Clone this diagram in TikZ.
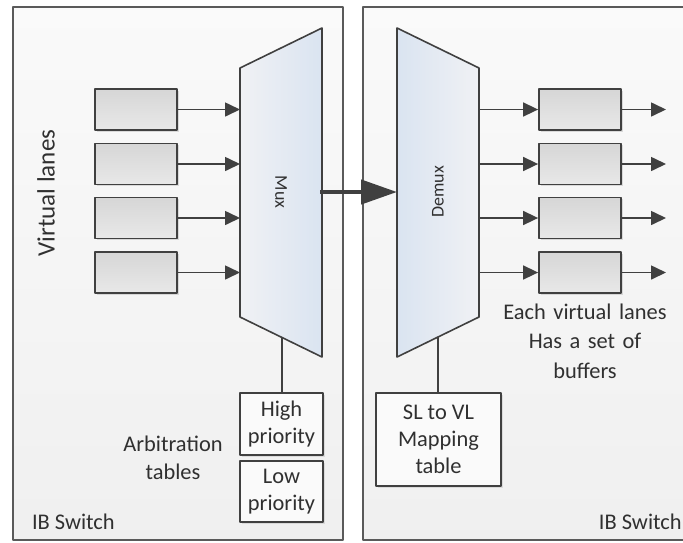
\documentclass[tikz,border=0pt]{standalone}
\usepackage{fontspec}
\setmainfont{Carlito}
\usetikzlibrary{arrows.meta}
\usetikzlibrary{positioning}
\usetikzlibrary{shadows}

\definecolor{linegray}{HTML}{404040}
\definecolor{framegray}{HTML}{5A5A5A}
\definecolor{textgray}{HTML}{303030}
\definecolor{muxblue}{HTML}{DAE4F1}
\definecolor{muxpale}{HTML}{F0F1F4}

\begin{document}
\begin{tikzpicture}[x=0.5pt, y=-0.5pt, line join=round, >={Triangle[length=7.5pt, width=7pt]},
    panel/.style={draw=framegray, line width=0.8pt, top color=white!98!black, bottom color=white!94!black},
    lanebox/.style={draw=linegray, line width=0.9pt, top color=white!84!black, bottom color=white!91!black,
      minimum width=41pt, minimum height=20.5pt, inner sep=0pt,
      drop shadow={shadow xshift=0.8pt, shadow yshift=-0.8pt, opacity=0.25}},
    tablebox/.style={draw=linegray, line width=0.6pt, fill=white!98!black, align=center, inner sep=0pt,
      drop shadow={shadow xshift=0.8pt, shadow yshift=-0.8pt, opacity=0.2}},
    wire/.style={draw=linegray, line width=0.8pt},
    lbl/.style={text=textgray, font=\fontsize{11.2}{13.5}\selectfont, align=center}]
  \useasboundingbox (0,0) rectangle (683,542);
  %--- IB switches
    \draw[panel] (13,7) rectangle (343,540);
    \draw[panel] (363,7) rectangle (700,540);
    \node[lbl, anchor=west] (swL) at (25,522) {IB Switch};
    \node[lbl, anchor=east, inner sep=0pt] (swR) at (682,522) {IB Switch};
  %--- Mux
    \coordinate (mux-nw) at (240,68);
    \coordinate (mux-ne) at (322,28);
    \coordinate (mux-se) at (322,357);
    \coordinate (mux-sw) at (240,317);
    \path[draw=linegray, line width=0.8pt, left color=muxpale, right color=muxblue]
      (mux-nw) -- (mux-ne) -- (mux-se) -- (mux-sw) -- cycle;
    \node[rotate=-90, text=textgray, font=\fontsize{9}{10}\selectfont] (mux) at (281,192) {Mux};
  %--- Demux
    \coordinate (dmx-nw) at (397,28);
    \coordinate (dmx-ne) at (479,68);
    \coordinate (dmx-se) at (479,317);
    \coordinate (dmx-sw) at (397,357);
    \path[draw=linegray, line width=0.8pt, left color=muxblue, right color=muxpale]
      (dmx-nw) -- (dmx-ne) -- (dmx-se) -- (dmx-sw) -- cycle;
    \node[rotate=90, text=textgray, font=\fontsize{9}{10}\selectfont] (dmx) at (438,192) {Demux};
  %--- Link
    \coordinate (mux-out) at (320,192);
    \coordinate (dmx-in) at (397,192);
    \draw[wire, line width=2.2pt, -{Triangle[length=18pt, width=12pt]}] (mux-out) -- (dmx-in);
  %--- Virtual lanes
    \node[lbl, rotate=90, font=\fontsize{12.5}{14}\selectfont] (vl) at (46,193) {Virtual lanes};
    \foreach \i/\y in {1/109.5, 2/164, 3/218, 4/272.5} {
      \node[lanebox] (in\i) at (136,\y) {};
      \draw[wire, ->] (in\i.east) -- (in\i.east -| mux-sw);
      \node[lanebox] (out\i) at (580,\y) {};
      \coordinate (end\i) at (666,\y);
      \draw[wire, ->] (out\i.west -| dmx-se) -- (out\i.west);
      \draw[wire, ->] (out\i.east) -- (end\i);
    }
    \node[lbl, text width=90pt] (buf) at (585,341) {Each virtual lanes\\[1.2pt]Has a set of\\[1.2pt]buffers};
  %--- Arbitration tables
    \node[tablebox, lbl, minimum width=41.5pt, minimum height=31pt] (high) at (281.5,424) {High\\priority};
    \node[tablebox, lbl, minimum width=41.5pt, minimum height=30.5pt] (low) at (281.5,491.5) {Low\\priority};
    \coordinate (mux-tap) at (282,337.5);
    \draw[wire] (mux-tap) -- (high.north -| mux-tap);
    \node[lbl] (arb) at (173,458) {Arbitration\\[0.5pt]tables};
  %--- SL to VL
    \node[tablebox, lbl, minimum width=62.5pt, minimum height=46.5pt] (slvl) at (438.5,439.5) {SL to VL\\Mapping\\table};
    \coordinate (dmx-tap) at (438,337);
    \draw[wire] (dmx-tap) -- (slvl.north -| dmx-tap);
\end{tikzpicture}
\end{document}
